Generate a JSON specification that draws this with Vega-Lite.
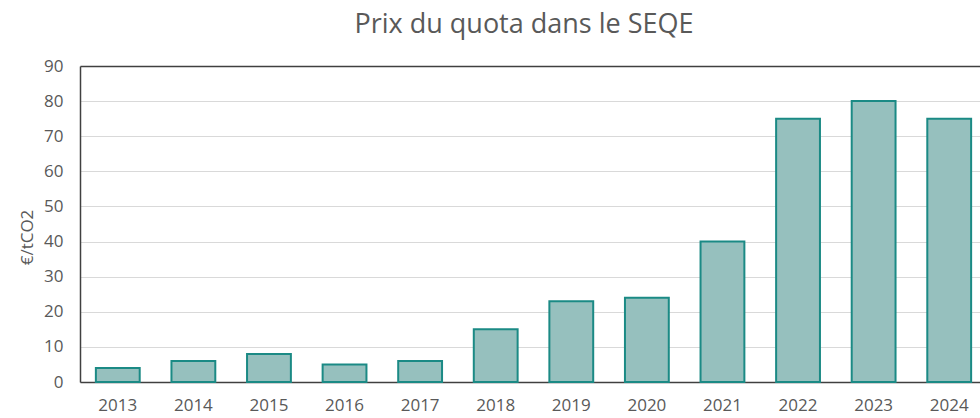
{
  "$schema": "https://vega.github.io/schema/vega-lite/v6.json",
  "autosize": "none",
  "width": 900,
  "height": 316,
  "padding": {"left": 80, "top": 66, "right": 0, "bottom": 36},
  "background": "white",
  "config": {
    "view": {"stroke": null},
    "font": "Open Sans",
    "axis": {"labelColor": "#595959", "titleColor": "#595959", "labelFontSize": 17, "titleFontSize": 17, "titleFontWeight": "normal", "ticks": false}
  },
  "title": {"text": "Prix du quota dans le SEQE", "fontSize": 27, "fontWeight": "normal", "color": "#595959", "offset": 18, "dx": -6},
  "data": {"values": [
    {"year": "2013", "price": 4},
    {"year": "2014", "price": 6},
    {"year": "2015", "price": 8},
    {"year": "2016", "price": 5},
    {"year": "2017", "price": 6},
    {"year": "2018", "price": 15},
    {"year": "2019", "price": 23},
    {"year": "2020", "price": 24},
    {"year": "2021", "price": 40},
    {"year": "2022", "price": 75},
    {"year": "2023", "price": 80},
    {"year": "2024", "price": 75}
  ]},
  "mark": {"type": "bar", "fill": "#96C0BE", "stroke": "#1B8A85", "strokeWidth": 2},
  "encoding": {
    "x": {"field": "year", "type": "ordinal", "title": null,
      "scale": {"range": [0, 907], "paddingInner": 0.42, "paddingOuter": 0.21},
      "axis": {"labelAngle": 0, "labelPadding": 15, "domainColor": "#404040", "domainWidth": 1.5}},
    "y": {"field": "price", "type": "quantitative", "title": "€/tCO2",
      "scale": {"domain": [0, 90]},
      "axis": {"values": [0,10,20,30,40,50,60,70,80,90], "labelPadding": 17, "titlePadding": 7, "titleY": 171, "domainColor": "#404040", "domainWidth": 1.5,
        "gridColor": {"condition": {"test": "datum.value === 90", "value": "#404040"}, "value": "#d9d9d9"},
        "gridWidth": {"condition": {"test": "datum.value === 90", "value": 1.5}, "value": 1}}}
  }
}
